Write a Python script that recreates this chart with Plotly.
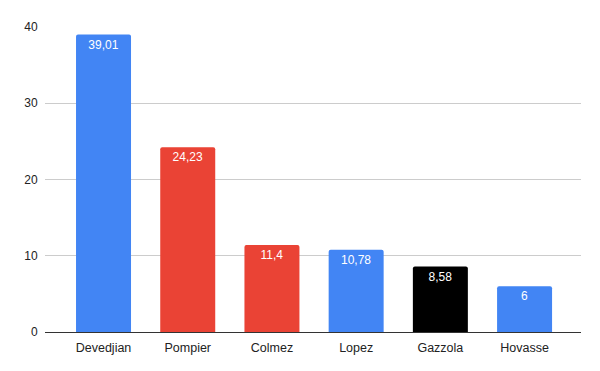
import plotly.graph_objects as go

categories = ["Devedjian", "Pompier", "Colmez", "Lopez", "Gazzola", "Hovasse"]
values = [39.01, 24.23, 11.4, 10.78, 8.58, 6]
labels = ["39,01", "24,23", "11,4", "10,78", "8,58", "6"]
colors = ["#4285F4", "#EA4335", "#EA4335", "#4285F4", "#000000", "#4285F4"]
y_ticks = [0, 10, 20, 30, 40]

FONT = "Arial, Liberation Sans, sans-serif"

fig = go.Figure(go.Bar(
    x=categories, y=values, text=labels,
    marker=dict(color=colors, line=dict(width=0), cornerradius=2),
    textposition="inside", insidetextanchor="end",
    textfont=dict(color="white", size=12, family=FONT),
    textangle=0,
))

fig.update_layout(
    width=600, height=371,
    margin=dict(l=37, r=27, t=17, b=47),
    paper_bgcolor="white", plot_bgcolor="white",
    font=dict(family=FONT, size=12, color="#222222"),
    bargap=0.347,
    showlegend=False,
    xaxis=dict(range=[-0.695, 5.67], showgrid=False, ticks="outside", ticklen=4,
               tickcolor="rgba(0,0,0,0)", showline=False,
               tickfont=dict(size=12.5, color="#222222", family=FONT), fixedrange=True),
    yaxis=dict(range=[0, 40], tickvals=y_ticks, showgrid=True, gridcolor="#cccccc",
               gridwidth=1, zeroline=True, zerolinecolor="#333333", zerolinewidth=1,
               ticks="outside", ticklen=4, tickcolor="rgba(0,0,0,0)",
               tickfont=dict(size=12, color="#222222", family=FONT), fixedrange=True),
)

fig.write_html("out.html")
